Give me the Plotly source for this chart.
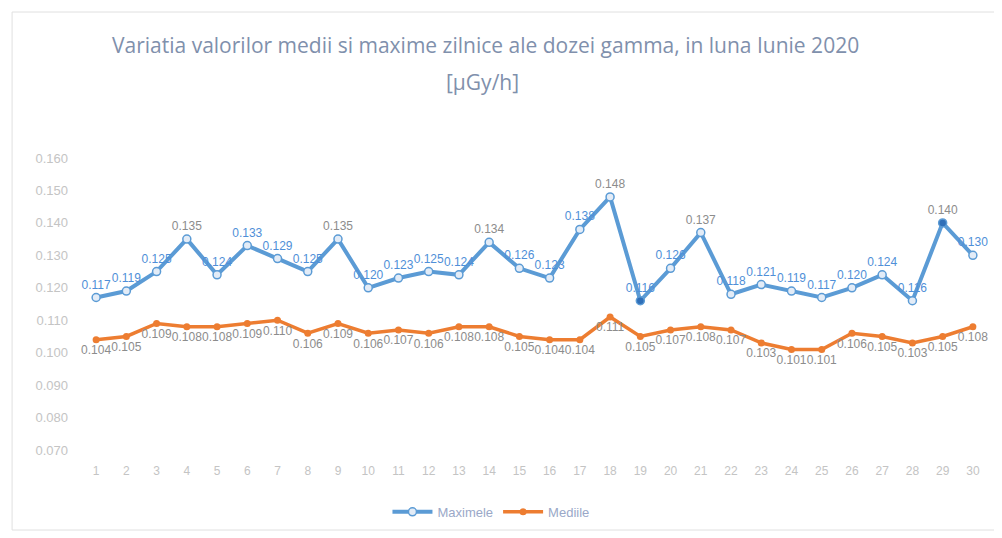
import plotly.graph_objects as go

days = list(range(1, 31))
day_labels = [str(d) for d in days]

maxime = [0.117, 0.119, 0.125, 0.135, 0.124, 0.133, 0.129, 0.125, 0.135, 0.120,
          0.123, 0.125, 0.124, 0.134, 0.126, 0.123, 0.138, 0.148, 0.116, 0.126,
          0.137, 0.118, 0.121, 0.119, 0.117, 0.120, 0.124, 0.116, 0.140, 0.130]
medii = [0.104, 0.105, 0.109, 0.108, 0.108, 0.109, 0.110, 0.106, 0.109, 0.106,
         0.107, 0.106, 0.108, 0.108, 0.105, 0.104, 0.104, 0.111, 0.105, 0.107,
         0.108, 0.107, 0.103, 0.101, 0.101, 0.106, 0.105, 0.103, 0.105, 0.108]

y_ticks = [0.070, 0.080, 0.090, 0.100, 0.110, 0.120, 0.130, 0.140, 0.150, 0.160]

series_names = ["Maximele", "Mediile"]
title_line1 = "Variatia valorilor medii si maxime zilnice ale dozei gamma, in luna Iunie 2020"
title_line2 = "[µGy/h]"

BLUE = "#5b9bd5"
ORANGE = "#ed7d31"
GRAY_LABEL = "#8c8c8c"
BLUE_LABEL = "#4f8fd8"
TITLE_COLOR = "#8090ac"

peak_days = {4, 9, 14, 18, 21, 29}
max_label_colors = [GRAY_LABEL if d in peak_days else BLUE_LABEL for d in days]
highlight = {19, 29}
max_marker_fill = ["#2f6fb8" if d in highlight else "#e3ecf7" for d in days]

fig = go.Figure()
fig.add_trace(go.Scatter(
    x=days, y=maxime, name=series_names[0], mode="lines+markers+text",
    line=dict(color=BLUE, width=4),
    marker=dict(symbol="circle", size=8, color=max_marker_fill,
                line=dict(color=BLUE, width=1.5)),
    text=[f"{v:.3f}" for v in maxime], textposition="top center",
    textfont=dict(family="Liberation Sans", size=12, color=max_label_colors),
    cliponaxis=False,
))
fig.add_trace(go.Scatter(
    x=days, y=medii, name=series_names[1], mode="lines+markers+text",
    line=dict(color=ORANGE, width=3.5),
    marker=dict(symbol="circle", size=7, color=ORANGE),
    text=[f"{v:.3f}" for v in medii], textposition="bottom center",
    textfont=dict(family="Liberation Sans", size=12, color=GRAY_LABEL),
    cliponaxis=False,
))

fig.update_layout(
    width=1002, height=538,
    margin=dict(l=73, r=22, t=150, b=96),
    paper_bgcolor="white", plot_bgcolor="white",
    font=dict(family="Liberation Sans", color="#bfbfbf"),
    showlegend=True,
    legend=dict(orientation="h", x=0.452, xanchor="center", y=-0.212, yanchor="middle",
                font=dict(size=13, color="#9aa8c8"), itemwidth=40),
    xaxis=dict(range=[0.5, 30.5], tickmode="array", tickvals=days, ticktext=day_labels,
               showgrid=False, zeroline=False, showline=False, ticks="",
               ticklabelstandoff=12,
               tickfont=dict(size=12, color="#c4c4c4")),
    yaxis=dict(range=[0.070, 0.160], tickmode="array", tickvals=y_ticks,
               ticktext=[f"{v:.3f}" for v in y_ticks],
               showgrid=False, zeroline=False, showline=False, ticks="",
               ticklabelstandoff=12,
               tickfont=dict(size=13, color="#c4c4c4")),
    annotations=[
        dict(text=title_line1, xref="paper", yref="paper", x=0.446, y=1.387,
             xanchor="center", yanchor="middle", showarrow=False,
             font=dict(family="Open Sans", size=21, color=TITLE_COLOR)),
        dict(text=title_line2, xref="paper", yref="paper", x=0.443, y=1.26,
             xanchor="center", yanchor="middle", showarrow=False,
             font=dict(family="Open Sans", size=21, color=TITLE_COLOR)),
    ],
    shapes=[dict(type="rect", xref="paper", yref="paper",
                 x0=-0.076, x1=1.02, y0=-0.274, y1=1.5,
                 line=dict(color="#e0e0e0", width=1), fillcolor="rgba(0,0,0,0)")],
)

fig.write_html("out.html")
